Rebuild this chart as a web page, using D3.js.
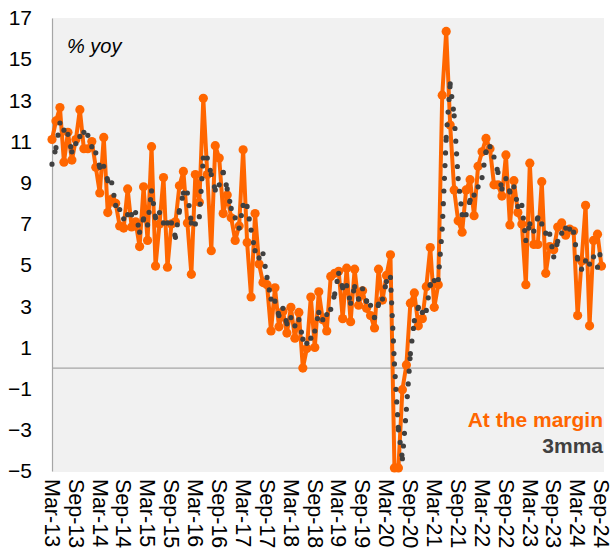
<!DOCTYPE html>
<html>
<head>
<meta charset="utf-8">
<script src="https://cdn.jsdelivr.net/npm/d3@7"></script>
<style>
  body { margin: 0; background: #fff; }
  svg { display: block; font-family: "Liberation Sans", Arial, sans-serif; }
</style>
</head>
<body>
<div id="chart"></div>
<script>
// month labels on the axis (every 6 months, from Mar-13)
var tickLabels = ["Mar-13","Sep-13","Mar-14","Sep-14","Mar-15","Sep-15","Mar-16","Sep-16",
  "Mar-17","Sep-17","Mar-18","Sep-18","Mar-19","Sep-19","Mar-20","Sep-20",
  "Mar-21","Sep-21","Mar-22","Sep-22","Mar-23","Sep-23","Mar-24","Sep-24"];

// % yoy, monthly, Mar-13 .. Sep-24
var atTheMargin = [
  11.1,12.0,12.65,10.0,11.45,10.1,11.1,12.55,10.65,10.65,
  11.0,9.75,8.5,11.2,7.55,8.2,8.0,6.9,6.8,8.7,
  6.85,7.1,5.9,8.8,6.2,10.75,4.95,7.0,9.25,4.9,
  7.0,7.1,8.85,9.55,7.05,4.55,9.4,8.05,13.1,9.4,
  5.7,10.8,10.2,7.5,8.4,7.3,6.2,6.9,10.6,6.1,
  3.45,7.5,5.05,4.15,4.05,1.8,3.9,2.0,2.75,1.7,
  2.95,1.45,2.7,0.0,0.95,3.45,1.0,3.7,2.35,1.8,
  4.45,4.6,4.7,2.4,4.85,2.25,4.8,3.05,3.75,2.9,
  2.55,1.95,4.8,3.3,4.5,5.5,-4.85,-4.85,-1.05,0.15,
  3.15,3.65,2.05,2.4,3.95,5.85,2.95,4.05,13.25,16.35,
  11.8,8.65,7.15,6.6,8.65,9.15,7.4,9.8,10.5,11.15,
  10.65,8.9,8.9,8.35,10.35,6.95,9.1,7.55,7.0,4.05,
  9.95,6.0,6.0,9.05,4.6,5.9,5.75,6.85,7.05,6.45,
  6.75,6.65,2.55,5.2,7.9,2.05,6.2,6.5,4.95
];

var mma3 = [
  9.9,10.7,11.9,11.55,11.35,10.5,10.9,11.25,11.45,11.3,
  10.75,10.45,9.75,9.8,9.1,9.0,7.9,7.7,7.25,7.45,
  7.45,7.55,6.6,7.25,6.95,8.6,7.3,7.55,7.05,7.05,
  7.05,6.35,7.65,8.5,8.5,7.05,7.0,7.35,10.2,10.2,
  9.4,8.65,8.9,9.5,8.7,7.75,7.3,6.8,7.9,7.85,
  6.7,5.7,5.35,5.55,4.4,3.35,3.25,2.55,2.9,2.15,
  2.45,2.05,2.35,1.4,1.2,1.45,1.8,2.7,2.35,2.6,
  2.85,3.6,4.6,3.9,4.0,3.15,3.95,3.35,3.85,3.25,
  3.05,2.45,3.1,3.35,4.2,4.4,0.2,-3.0,-4.4,-2.0,
  0.7,2.3,2.95,2.7,2.8,4.05,4.25,4.3,6.75,11.2,
  13.8,12.25,9.2,7.45,7.45,8.15,8.4,8.8,9.25,10.5,
  10.75,10.25,9.5,8.7,9.2,8.55,8.8,7.85,7.9,6.2,
  7.0,6.65,7.3,7.0,6.55,6.5,5.4,6.15,6.55,6.8,
  6.75,6.6,5.3,4.8,5.2,5.05,5.4,4.9,5.9
];

var yTicks = [-5,-3,-1,1,3,5,7,9,11,13,15,17];

var width = 613, height = 556;
var plot = { left: 52, right: 604, top: 18, bottom: 471 };
var orange = "#ff6600", dark = "#404040";

var svg = d3.select("#chart").append("svg")
  .attr("width", width)
  .attr("height", height);

var x = d3.scaleLinear()
  .domain([0, atTheMargin.length - 1])
  .range([plot.left, 601.5]);

var y = d3.scaleLinear()
  .domain([-5, 17])
  .range([plot.bottom, plot.top]);

// plot background
svg.append("rect")
  .attr("x", plot.left)
  .attr("y", plot.top)
  .attr("width", plot.right - plot.left)
  .attr("height", plot.bottom - plot.top + 1)
  .attr("fill", "#f1f1f1");

// y axis: labels only, plus the axis line
var yAxis = svg.append("g")
  .attr("transform", "translate(" + plot.left + ",0)")
  .call(d3.axisLeft(y).tickValues(yTicks).tickSize(0).tickPadding(20));
yAxis.select(".domain").attr("stroke", "#a6a6a6").attr("stroke-width", 1.2);
yAxis.selectAll("text")
  .attr("font-size", 21)
  .attr("fill", "#000")
  .style("font-family", "Liberation Sans, Arial, sans-serif");

// zero line
svg.append("line")
  .attr("x1", plot.left).attr("x2", plot.right)
  .attr("y1", y(0)).attr("y2", y(0))
  .attr("stroke", "#a6a6a6")
  .attr("stroke-width", 1.2);

// x axis labels, rotated to read top to bottom
var xAxis = svg.append("g")
  .attr("transform", "translate(0," + plot.bottom + ")")
  .call(d3.axisBottom(x)
    .tickValues(tickLabels.map(function(d, i) { return i * 6; }))
    .tickFormat(function(d) { return tickLabels[d / 6]; })
    .tickSize(0));
xAxis.select(".domain").remove();
xAxis.selectAll("text")
  .attr("font-size", 21.5)
  .attr("fill", "#000")
  .style("font-family", "Liberation Sans, Arial, sans-serif")
  .attr("text-anchor", "start")
  .attr("transform", "rotate(90)")
  .attr("x", 8)
  .attr("y", 0)
  .attr("dy", "0.36em");

var g = svg.append("g");

// "At the margin"
var line = d3.line()
  .x(function(d, i) { return x(i); })
  .y(function(d) { return y(d); });

g.append("path")
  .datum(atTheMargin)
  .attr("d", line)
  .attr("fill", "none")
  .attr("stroke", orange)
  .attr("stroke-width", 4)
  .attr("stroke-linejoin", "round");

g.selectAll("circle.m")
  .data(atTheMargin)
  .enter()
  .append("circle")
  .attr("class", "m")
  .attr("cx", function(d, i) { return x(i); })
  .attr("cy", function(d) { return y(d); })
  .attr("r", 4.6)
  .attr("fill", orange);

// 3mma: round-dot line, the dot pattern restarts at every point
var pts = mma3.map(function(d, i) { return [x(i), y(d)]; });
g.selectAll("line.mma")
  .data(d3.pairs(pts))
  .enter()
  .append("line")
  .attr("class", "mma")
  .attr("x1", function(d) { return d[0][0]; })
  .attr("y1", function(d) { return d[0][1]; })
  .attr("x2", function(d) { return d[1][0]; })
  .attr("y2", function(d) { return d[1][1]; })
  .attr("stroke", dark)
  .attr("stroke-width", 5.2)
  .attr("stroke-linecap", "round")
  .attr("stroke-dasharray", "0 12.7");

// unit label
svg.append("text")
  .attr("x", 67)
  .attr("y", 53)
  .attr("font-size", 20)
  .attr("font-style", "italic")
  .attr("fill", "#000")
  .text("% yoy");

// legend
svg.append("text")
  .attr("x", 603)
  .attr("y", 427)
  .attr("text-anchor", "end")
  .attr("font-size", 21)
  .attr("font-weight", "bold")
  .attr("fill", orange)
  .text("At the margin");

svg.append("text")
  .attr("x", 603)
  .attr("y", 453)
  .attr("text-anchor", "end")
  .attr("font-size", 21)
  .attr("font-weight", "bold")
  .attr("fill", dark)
  .text("3mma");
</script>
</body>
</html>
